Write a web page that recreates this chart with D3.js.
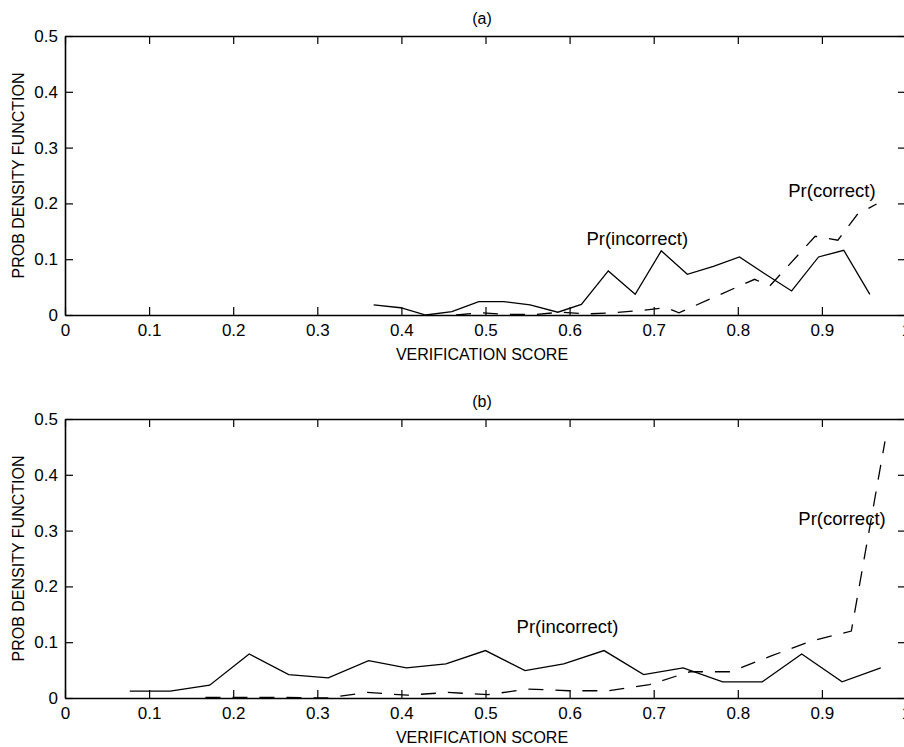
<!DOCTYPE html>
<html lang="en">
<head>
    <meta charset="utf-8">
    <title>Verification score PDFs</title>
    <script src="https://d3js.org/d3.v7.min.js"></script>
    <style>
        body { margin: 0; background: #fff; }
        text { font-family: "Liberation Sans", Arial, Helvetica, sans-serif; fill: #000; }
    </style>
</head>
<body>
    <svg width="904" height="747"></svg>

    <script>
        // Tick values
        var xTicks = [0, 0.1, 0.2, 0.3, 0.4, 0.5, 0.6, 0.7, 0.8, 0.9, 1];
        var yTicks = [0, 0.1, 0.2, 0.3, 0.4, 0.5];

        // Panel (a): Pr(incorrect), solid
        var xIncA = [0.367, 0.399, 0.429, 0.460, 0.492, 0.522, 0.553, 0.586, 0.614, 0.646,
                     0.678, 0.709, 0.740, 0.771, 0.802, 0.833, 0.864, 0.896, 0.926, 0.957];
        var incA  = [0.018, 0.013, 0.000, 0.006, 0.024, 0.024, 0.018, 0.005, 0.019, 0.079,
                     0.037, 0.115, 0.073, 0.087, 0.104, 0.073, 0.043, 0.104, 0.116, 0.037];
        // Panel (a): Pr(correct), dashed
        var xCorA = [0.465, 0.496, 0.527, 0.559, 0.590, 0.621, 0.653, 0.684, 0.715, 0.730,
                     0.820, 0.838, 0.892, 0.919, 0.942, 0.965];
        var corA  = [0.000, 0.004, 0.001, 0.001, 0.005, 0.002, 0.004, 0.008, 0.013, 0.004,
                     0.064, 0.052, 0.141, 0.134, 0.180, 0.199];

        // Panel (b): Pr(incorrect), solid
        var xIncB = [0.077, 0.125, 0.172, 0.219, 0.266, 0.313, 0.361, 0.406, 0.453, 0.500,
                     0.547, 0.593, 0.641, 0.688, 0.735, 0.782, 0.829, 0.876, 0.924, 0.970];
        var incB  = [0.0125, 0.0125, 0.023, 0.079, 0.042, 0.036, 0.067, 0.054, 0.061, 0.085,
                     0.049, 0.061, 0.085, 0.042, 0.054, 0.029, 0.029, 0.079, 0.029, 0.054];
        // Panel (b): Pr(correct), dashed
        var xCorB = [0.167, 0.215, 0.263, 0.312, 0.359, 0.407, 0.455, 0.503, 0.551, 0.599,
                     0.647, 0.695, 0.743, 0.791, 0.839, 0.887, 0.935, 0.975];
        var corB  = [0.001, 0.001, 0.001, 0.000, 0.010, 0.005, 0.010, 0.006, 0.016, 0.013,
                     0.013, 0.024, 0.047, 0.047, 0.075, 0.102, 0.120, 0.460];

        // Text annotations (data coordinates)
        var notesA = [{t: "Pr(incorrect)", x: 0.620, y: 0.125}, {t: "Pr(correct)", x: 0.860, y: 0.212}];
        var notesB = [{t: "Pr(incorrect)", x: 0.537, y: 0.116}, {t: "Pr(correct)", x: 0.872, y: 0.310}];

        var svg = d3.select("svg");
        var x = d3.scaleLinear().domain([0, 1]).range([65, 906]);
        var fmt = function(d) { return String(+d.toFixed(1)); };

        function panel(top, title, xs1, ys1, xs2, ys2, notes) {
            var y = d3.scaleLinear().domain([0, 0.5]).range([top + 279, top]);
            var g = svg.append("g");

            // box with inward ticks on all four sides
            g.append("g").attr("transform", "translate(0," + y(0) + ")")
                .call(d3.axisBottom(x).tickValues(xTicks).tickFormat(fmt).tickSizeInner(-8).tickSizeOuter(0).tickPadding(9));
            g.append("g").attr("transform", "translate(0," + y(0.5) + ")")
                .call(d3.axisTop(x).tickValues(xTicks).tickFormat("").tickSizeInner(-8).tickSizeOuter(0));
            g.append("g").attr("transform", "translate(" + x(0) + ",0)")
                .call(d3.axisLeft(y).tickValues(yTicks).tickFormat(fmt).tickSizeInner(-8).tickSizeOuter(0).tickPadding(7));
            g.append("g").attr("transform", "translate(" + x(1) + ",0)")
                .call(d3.axisRight(y).tickValues(yTicks).tickFormat("").tickSizeInner(-8).tickSizeOuter(0));

            g.selectAll(".domain").attr("stroke", "#000").attr("stroke-width", 1.6);
            g.selectAll(".tick line").attr("stroke", "#000").attr("stroke-width", 1.2);
            g.selectAll(".tick text").style("font-size", "17px").attr("fill", "#000");

            var line = d3.line().x(function(d) { return x(d[0]); }).y(function(d) { return y(d[1]); });

            g.append("path")
                .datum(d3.zip(xs1, ys1))
                .attr("d", line)
                .attr("fill", "none").attr("stroke", "#000").attr("stroke-width", 1.3);

            g.append("path")
                .datum(d3.zip(xs2, ys2))
                .attr("d", line)
                .attr("fill", "none").attr("stroke", "#000").attr("stroke-width", 1.3)
                .attr("stroke-dasharray", "15,12");

            g.selectAll(".note").data(notes).enter().append("text")
                .attr("x", function(d) { return x(d.x); })
                .attr("y", function(d) { return y(d.y); })
                .style("font-size", "18.5px")
                .text(function(d) { return d.t; });

            // titles
            g.append("text").attr("x", 482).attr("y", top - 12)
                .attr("text-anchor", "middle").style("font-size", "16px").text(title);
            g.append("text").attr("x", 482).attr("y", top + 324)
                .attr("text-anchor", "middle").style("font-size", "16px").text("VERIFICATION SCORE");
            g.append("text")
                .attr("transform", "translate(24," + (top + 139.5) + ") rotate(-90)")
                .attr("text-anchor", "middle").style("font-size", "16px").text("PROB DENSITY FUNCTION");
        }

        panel(36, "(a)", xIncA, incA, xCorA, corA, notesA);
        panel(419, "(b)", xIncB, incB, xCorB, corB, notesB);
    </script>
</body>
</html>
